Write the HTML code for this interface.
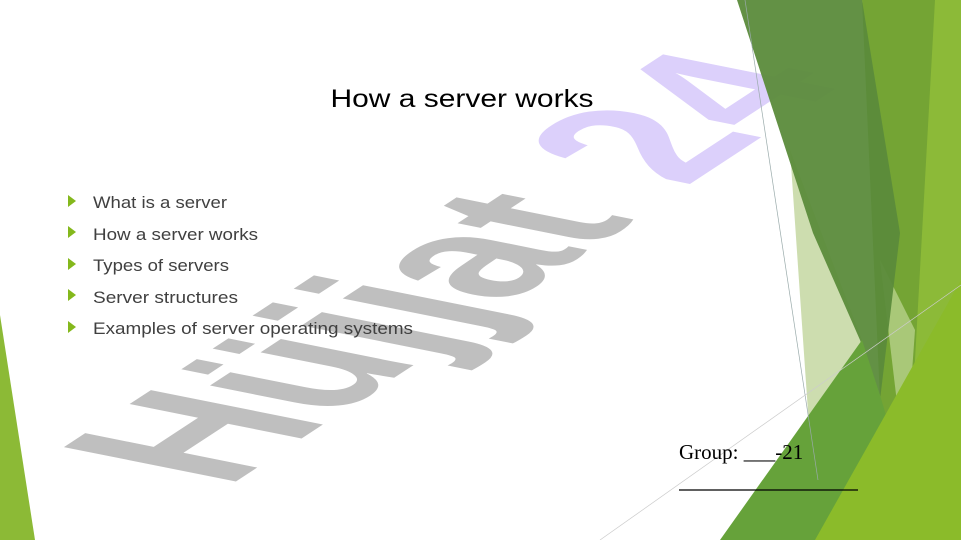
<!DOCTYPE html>
<html><head><meta charset="utf-8"><style>
html,body{margin:0;padding:0;background:#fff;}
body{width:961px;height:540px;overflow:hidden;position:relative;}
svg{position:absolute;left:0;top:0;}
</style></head><body>
<svg width="961" height="540" viewBox="0 0 961 540" xmlns="http://www.w3.org/2000/svg">
  <polygon points="0,315 35,540 0,540" fill="#8cba36"/>
  <text transform="matrix(1.48,-0.97,2.5,0.5,226,488)" font-family="Liberation Sans, sans-serif" font-weight="bold" font-size="100" fill="#bfbfbf">Hüjjat</text>
  <text transform="matrix(1.48,-0.97,2.5,0.5,226,488)" x="310" font-family="Liberation Sans, sans-serif" font-weight="bold" font-size="100" fill="#dcd0fb">24</text>
  <polygon points="862,0 961,0 961,290 905,480 880,400" fill="#74a434"/>
  <polygon points="935,0 961,0 961,540 905,540" fill="#8cba38"/>
  <polygon points="790,150 862,340 740,540 795,540 812,470" fill="#c8d9a6" opacity="0.9"/>
  <polygon points="880,260 915,330 905,470" fill="#a9c878"/>
  <polygon points="737,0 862,0 900,233 880,400 860,340 813,233" fill="#5b8b3b" opacity="0.95"/>
  <polygon points="862,340 880,395 905,480 820,540 720,540" fill="#66a23a"/>
  <polygon points="961,280 961,540 815,540" fill="#8bbb2a"/>
  <line x1="745" y1="0" x2="818" y2="480" stroke="#9aa" stroke-width="0.7"/>
  <line x1="600" y1="540" x2="961" y2="285" stroke="#ccc" stroke-width="0.7"/>
  <text x="462" y="107" text-anchor="middle" font-family="Liberation Sans, sans-serif" font-size="25" fill="#000" textLength="263" lengthAdjust="spacingAndGlyphs">How a server works</text>
  <g fill="#84b81c">
    <polygon points="68,195 76,201 68,207"/>
    <polygon points="68,226 76,232 68,238"/>
    <polygon points="68,258 76,264 68,270"/>
    <polygon points="68,289 76,295 68,301"/>
    <polygon points="68,321 76,327 68,333"/>
  </g>
  <g font-family="Liberation Sans, sans-serif" font-size="17" fill="#404040">
    <text x="93" y="208" textLength="134" lengthAdjust="spacingAndGlyphs">What is a server</text>
    <text x="93" y="240" textLength="165" lengthAdjust="spacingAndGlyphs">How a server works</text>
    <text x="93" y="271" textLength="136" lengthAdjust="spacingAndGlyphs">Types of servers</text>
    <text x="93" y="303" textLength="145" lengthAdjust="spacingAndGlyphs">Server structures</text>
    <text x="93" y="334" textLength="320" lengthAdjust="spacingAndGlyphs">Examples of server operating systems</text>
  </g>
  <text x="679" y="459" font-family="Liberation Serif, serif" font-size="21" fill="#000">Group: ___-21</text>
  <line x1="679" y1="490" x2="858" y2="490" stroke="#000" stroke-width="1.2"/>
</svg>
</body></html>
